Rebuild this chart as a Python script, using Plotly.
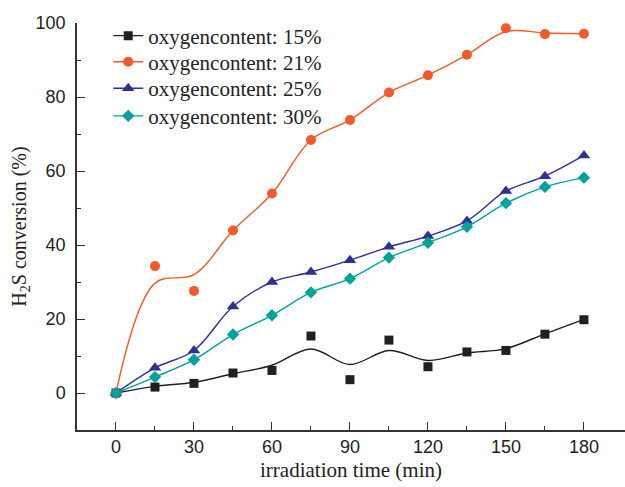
import plotly.graph_objects as go

# irradiation time (min)
time_min = [0, 15, 30, 45, 60, 75, 90, 105, 120, 135, 150, 165, 180]

# measured H2S conversion (%) for each oxygen content
conv_15 = [0, 1.6, 2.6, 5.4, 6.1, 15.4, 3.6, 14.3, 7.1, 11.1, 11.5, 15.9, 19.8]
conv_21 = [0, 34.3, 27.6, 43.9, 53.9, 68.4, 73.8, 81.2, 85.9, 91.4, 98.6, 97.0, 97.1]
conv_25 = [0, 6.8, 11.5, 23.4, 30.0, 32.7, 35.9, 39.5, 42.4, 46.5, 54.6, 58.6, 64.2]
conv_30 = [0, 4.3, 9.0, 15.8, 21.0, 27.2, 30.9, 36.6, 40.6, 44.9, 51.3, 55.7, 58.2]

# smoothed trend curves for the two noisier series
trend_15 = [0, 1.8, 2.9, 5.2, 7.5, 11.9, 7.7, 11.5, 8.8, 10.8, 12.0, 16.0, 19.9]
trend_21 = [0, 29.7, 32.0, 43.9, 53.9, 68.4, 73.8, 81.2, 85.9, 91.4, 97.7, 97.3, 97.1]

legend_names = ["oxygencontent: 15%", "oxygencontent: 21%",
                "oxygencontent: 25%", "oxygencontent: 30%"]
colors = ["#231f20", "#f15a29", "#2e3192", "#00a39b"]
symbols = ["square", "circle", "triangle-up", "diamond"]
sizes = [9, 10, 11, 9.5]

SERIF = "Liberation Serif, Times New Roman, serif"
SANS = "Liberation Sans, Arial, sans-serif"
LW = 1.4

# one single-entry legend per series so the rows can be packed tightly
legend_ids = ["legend", "legend2", "legend3", "legend4"]
legend_rows_y = [0.968, 0.904, 0.839, 0.771]

fig = go.Figure()

series = [
    (conv_15, trend_15),
    (conv_21, trend_21),
    (conv_25, None),
    (conv_30, None),
]

for i, (vals, trend) in enumerate(series):
    marker = dict(symbol=symbols[i], size=sizes[i], color=colors[i],
                  line=dict(width=0))
    line = dict(color=colors[i], width=LW, shape="spline", smoothing=1.0)
    if trend is None:
        fig.add_trace(go.Scatter(
            x=time_min, y=vals, mode="lines+markers", name=legend_names[i],
            line=line, marker=marker, legendgroup=f"g{i}",
            legend=legend_ids[i]))
    else:
        # smoothed curve
        fig.add_trace(go.Scatter(
            x=time_min, y=trend, mode="lines", line=line,
            showlegend=False, legendgroup=f"g{i}", hoverinfo="skip"))
        # measured points
        fig.add_trace(go.Scatter(
            x=time_min, y=vals, mode="markers", marker=marker,
            showlegend=False, legendgroup=f"g{i}"))
        # legend entry showing both line and marker
        fig.add_trace(go.Scatter(
            x=[None], y=[None], mode="lines+markers", name=legend_names[i],
            line=dict(color=colors[i], width=LW), marker=marker,
            legendgroup=f"g{i}", legend=legend_ids[i]))

axis_common = dict(
    showline=True, linecolor="#333333", linewidth=1.5,
    ticks="inside", ticklen=8, tickwidth=1.4, tickcolor="#333333",
    showgrid=False, zeroline=False,
    tickfont=dict(family=SANS, size=18, color="#222222"),
)

legend_style = dict(
    x=0.057, xanchor="left", yanchor="middle",
    bgcolor="rgba(0,0,0,0)", borderwidth=0,
    font=dict(family=SERIF, size=21, color="#222222"),
)

fig.update_layout(
    width=625, height=487,
    margin=dict(l=77, r=0, t=23, b=57),
    paper_bgcolor="white", plot_bgcolor="white",
    xaxis=dict(
        range=[-15, 195.8], tickvals=[0, 30, 60, 90, 120, 150, 180],
        minor=dict(tickvals=[15, 45, 75, 105, 135, 165], ticks="inside",
                   ticklen=4, tickwidth=1.4, tickcolor="#333333"),
        title=dict(text="irradiation time (min)",
                   font=dict(family=SERIF, size=21, color="#222222"),
                   standoff=6),
        **axis_common,
    ),
    yaxis=dict(
        range=[-10, 100], tickvals=[0, 20, 40, 60, 80, 100],
        minor=dict(tickvals=[10, 30, 50, 70, 90], ticks="inside",
                   ticklen=4, tickwidth=1.4, tickcolor="#333333"),
        ticklabelstandoff=6,
        title=dict(text="H<sub>2</sub>S conversion (%)",
                   font=dict(family=SERIF, size=20, color="#222222"),
                   standoff=4),
        **axis_common,
    ),
    showlegend=True,
)

for lid, ly in zip(legend_ids, legend_rows_y):
    fig.update_layout({lid: dict(y=ly, **legend_style)})

fig.write_html("out.html")
